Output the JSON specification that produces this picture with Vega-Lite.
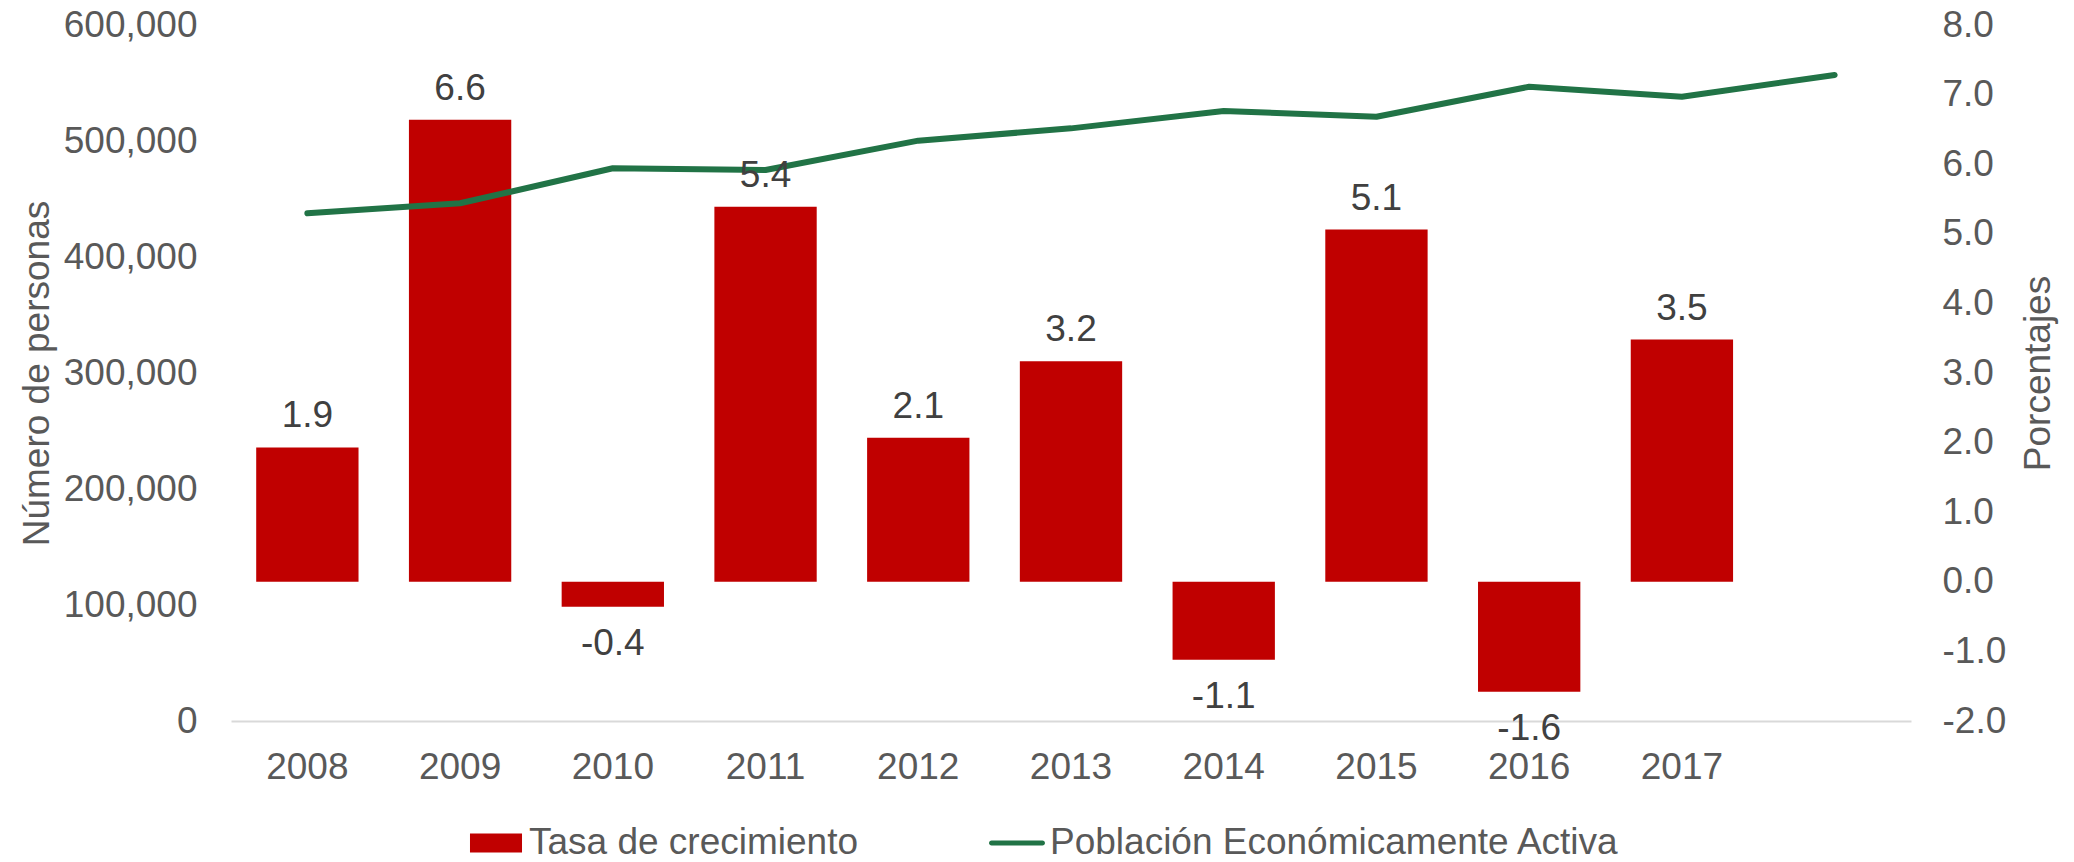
{
  "$schema": "https://vega.github.io/schema/vega-lite/v6.json",
  "width": 1680,
  "height": 696,
  "autosize": {"type": "none"},
  "padding": {"left": 231, "top": 25, "right": 163, "bottom": 141},
  "background": "white",
  "data": {
    "values": [
      {"year": "2008", "tasa": 1.93, "pea": 437700},
      {"year": "2009", "tasa": 6.64, "pea": 446300},
      {"year": "2010", "tasa": -0.36, "pea": 476500},
      {"year": "2011", "tasa": 5.39, "pea": 475000},
      {"year": "2012", "tasa": 2.07, "pea": 500300},
      {"year": "2013", "tasa": 3.17, "pea": 510900},
      {"year": "2014", "tasa": -1.12, "pea": 525900},
      {"year": "2015", "tasa": 5.06, "pea": 520900},
      {"year": "2016", "tasa": -1.58, "pea": 546800},
      {"year": "2017", "tasa": 3.48, "pea": 538200},
      {"year": "2018", "tasa": null, "pea": 556900}
    ]
  },
  "encoding": {
    "x": {
      "field": "year",
      "type": "ordinal",
      "sort": null,
      "scale": {"paddingInner": 0.33, "paddingOuter": 0.165},
      "axis": {
        "title": null,
        "labelAngle": 0,
        "labelPadding": 28,
        "labelExpr": "datum.label == '2018' ? '' : datum.label",
        "domain": true,
        "domainColor": "#D9D9D9",
        "domainWidth": 2
      }
    }
  },
  "layer": [
    {
      "mark": {"type": "bar", "color": "#C00000"},
      "encoding": {
        "y": {
          "field": "tasa",
          "type": "quantitative",
          "scale": {"domain": [-2, 8], "nice": false},
          "axis": {
            "orient": "right",
            "title": "Porcentajes",
            "titleAngle": -90,
            "titleBaseline": "top",
            "titlePadding": 15,
            "values": [-2, -1, 0, 1, 2, 3, 4, 5, 6, 7, 8],
            "format": ".1f",
            "labelPadding": 31
          }
        }
      }
    },
    {
      "mark": {"type": "line", "color": "#217346", "strokeWidth": 6, "strokeCap": "round", "strokeJoin": "round"},
      "encoding": {
        "y": {
          "field": "pea",
          "type": "quantitative",
          "scale": {"domain": [0, 600000], "nice": false},
          "axis": {
            "orient": "left",
            "title": "Número de personas",
            "titlePadding": 7,
            "values": [0, 100000, 200000, 300000, 400000, 500000, 600000],
            "format": ",.0f",
            "labelPadding": 34
          }
        }
      }
    },
    {
      "transform": [{"filter": "isValid(datum.tasa) && datum.tasa >= 0"}],
      "mark": {"type": "text", "dy": -20, "baseline": "alphabetic", "align": "center", "font": "Liberation Sans", "fontSize": 37, "color": "#404040"},
      "encoding": {
        "y": {"field": "tasa", "type": "quantitative", "scale": {"domain": [-2, 8], "nice": false}, "axis": null},
        "text": {"field": "tasa", "type": "quantitative", "format": ".1f"}
      }
    },
    {
      "transform": [{"filter": "isValid(datum.tasa) && datum.tasa < 0"}],
      "mark": {"type": "text", "dy": 48, "baseline": "alphabetic", "align": "center", "font": "Liberation Sans", "fontSize": 37, "color": "#404040"},
      "encoding": {
        "y": {"field": "tasa", "type": "quantitative", "scale": {"domain": [-2, 8], "nice": false}, "axis": null},
        "text": {"field": "tasa", "type": "quantitative", "format": ".1f"}
      }
    },
    {
      "data": {"values": [{"serie": "Tasa de crecimiento"}, {"serie": "Población Económicamente Activa"}]},
      "transform": [{"filter": "false"}],
      "mark": {"type": "point", "filled": true, "opacity": 1},
      "encoding": {
        "x": null,
        "color": {
          "field": "serie",
          "type": "nominal",
          "scale": {"domain": ["Tasa de crecimiento", "Población Económicamente Activa"], "range": ["#C00000", "#217346"]},
          "legend": {
            "title": null,
            "orient": "none",
            "legendX": 237,
            "legendY": 790,
            "direction": "horizontal",
            "padding": 0,
            "symbolSize": 3136,
            "symbolStrokeWidth": 0,
            "symbolOpacity": 1,
            "labelOffset": 5,
            "columnPadding": 130,
            "labelFont": "Liberation Sans",
            "labelFontSize": 37,
            "labelColor": "#595959",
            "labelLimit": 1000
          }
        },
        "shape": {
          "field": "serie",
          "type": "nominal",
          "scale": {
            "domain": ["Tasa de crecimiento", "Población Económicamente Activa"],
            "range": [
              "M-0.929,-0.339L0.929,-0.339L0.929,0.339L-0.929,0.339Z",
              "M-0.91,-0.089L0.91,-0.089A0.089,0.089,0,0,1,0.91,0.089L-0.91,0.089A0.089,0.089,0,0,1,-0.91,-0.089Z"
            ]
          },
          "legend": {
            "title": null,
            "orient": "none",
            "legendX": 237,
            "legendY": 790,
            "direction": "horizontal",
            "padding": 0,
            "symbolSize": 3136,
            "symbolStrokeWidth": 0,
            "symbolOpacity": 1,
            "labelOffset": 5,
            "columnPadding": 130,
            "labelFont": "Liberation Sans",
            "labelFontSize": 37,
            "labelColor": "#595959",
            "labelLimit": 1000
          }
        }
      }
    }
  ],
  "resolve": {"scale": {"y": "independent"}},
  "config": {
    "locale": {
      "number": {"decimal": ".", "thousands": ",", "grouping": [3], "currency": ["$", ""], "minus": "-"}
    },
    "view": {"stroke": null},
    "axis": {
      "labelFont": "Liberation Sans",
      "labelFontSize": 37,
      "labelColor": "#595959",
      "titleFont": "Liberation Sans",
      "titleFontSize": 37,
      "titleFontWeight": "normal",
      "titleColor": "#595959",
      "ticks": false,
      "tickSize": 0,
      "grid": false,
      "domain": false,
      "labelLimit": 1000
    }
  }
}
